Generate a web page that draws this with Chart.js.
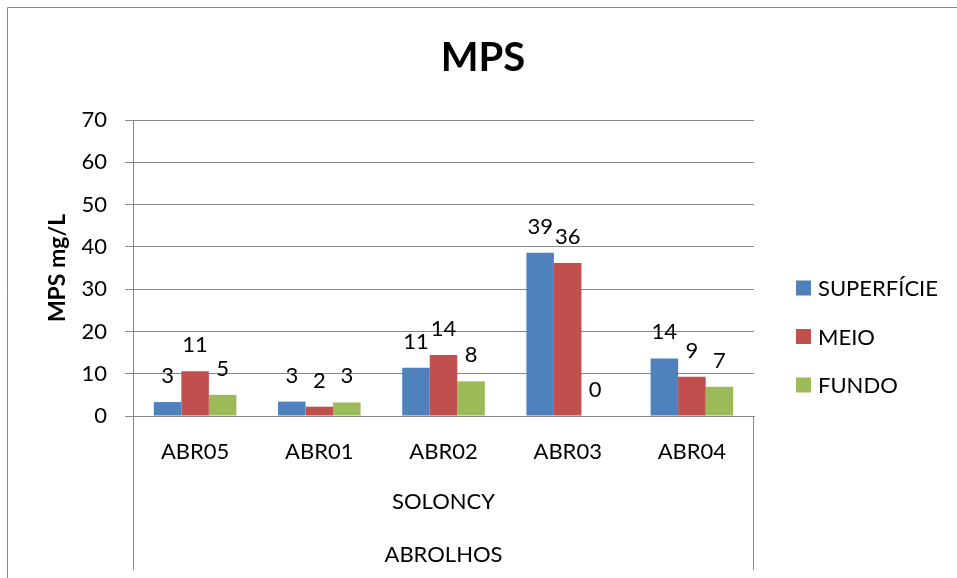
<!DOCTYPE html>
<html>
<head>
<meta charset="utf-8">
<script src="https://cdn.jsdelivr.net/npm/chart.js@4/dist/chart.umd.min.js"></script>
<style>
  html, body { margin: 0; padding: 0; background: #ffffff; }
  #wrap { width: 957px; height: 578px; }
</style>
</head>
<body>
<div id="wrap"><canvas id="c" width="957" height="578"></canvas></div>
<script>
// Stations (inner category level) and the outer grouping levels
const stations = ['ABR05', 'ABR01', 'ABR02', 'ABR03', 'ABR04'];
const groupLevels = ['SOLONCY', 'ABROLHOS'];

// Series names and MPS concentrations (mg/L) per station
const seriesNames = ['SUPERFÍCIE', 'MEIO', 'FUNDO'];
const superficie = [3.3, 3.4, 11.4, 38.6, 13.6];
const meio       = [10.6, 2.2, 14.4, 36.2, 9.3];
const fundo      = [5.0, 3.2, 8.2, 0, 6.9];

// Value axis ticks
const yTicks = [0, 10, 20, 30, 40, 50, 60, 70];

const chartTitle = 'MPS';
const axisTitle = 'MPS mg/L';

const seriesColors = ['#4F81BD', '#C0504D', '#9BBB59'];
const FONT = 'Lato, "Liberation Sans", sans-serif';
const GRID = '#888888';

// Outer frame lines and the centred chart title
const framePlugin = {
  id: 'frame',
  beforeDraw(chart) {
    const ctx = chart.ctx;
    ctx.save();
    ctx.fillStyle = '#ffffff';
    ctx.fillRect(0, 0, chart.width, chart.height);
    ctx.strokeStyle = GRID;
    ctx.lineWidth = 1;
    ctx.beginPath();
    ctx.moveTo(7.5, chart.height);
    ctx.lineTo(7.5, 7.5);
    ctx.lineTo(chart.width, 7.5);
    ctx.stroke();
    ctx.fillStyle = '#000000';
    ctx.font = 'bold 40px ' + FONT;
    ctx.textAlign = 'center';
    ctx.textBaseline = 'middle';
    ctx.fillText(chartTitle, 483, 58);
    ctx.restore();
  }
};

// Multi-level category axis: enclosing lines and the group rows
const groupAxisPlugin = {
  id: 'groupAxis',
  afterDraw(chart) {
    const xs = chart.scales.x;
    const ctx = chart.ctx;
    const l = Math.round(xs.left) + 0.5, r = Math.round(xs.right) - 0.5;
    const top = xs.top, bottom = 570;
    ctx.save();
    ctx.strokeStyle = GRID;
    ctx.lineWidth = 1;
    ctx.beginPath();
    ctx.moveTo(l, top); ctx.lineTo(l, bottom);
    ctx.moveTo(r, top); ctx.lineTo(r, bottom);
    ctx.stroke();
    ctx.fillStyle = '#000000';
    ctx.font = '22px ' + FONT;
    ctx.textAlign = 'center';
    ctx.textBaseline = 'middle';
    const cx = (xs.left + xs.right) / 2;
    const rowY = [502, 555];
    groupLevels.forEach((g, i) => ctx.fillText(g, cx, rowY[i]));
    ctx.restore();
  }
};

// Value labels above each bar
const valueLabelPlugin = {
  id: 'valueLabels',
  afterDatasetsDraw(chart) {
    const ctx = chart.ctx;
    ctx.save();
    ctx.fillStyle = '#000000';
    ctx.font = '22px ' + FONT;
    ctx.textAlign = 'center';
    ctx.textBaseline = 'alphabetic';
    chart.data.datasets.forEach((ds, di) => {
      const meta = chart.getDatasetMeta(di);
      meta.data.forEach((bar, i) => {
        const v = ds.data[i];
        ctx.fillText(String(Math.round(v)), bar.x, bar.y - 19);
      });
    });
    ctx.restore();
  }
};

// Legend at the right of the plot
const sideLegendPlugin = {
  id: 'sideLegend',
  afterDraw(chart) {
    const ctx = chart.ctx;
    const area = chart.chartArea;
    const bx = area.right + 42;
    const step = 48.5;
    const y0 = 336.5 - step;
    ctx.save();
    ctx.font = '22px ' + FONT;
    ctx.textAlign = 'left';
    ctx.textBaseline = 'middle';
    chart.data.datasets.forEach((ds, i) => {
      const y = y0 + i * step;
      ctx.fillStyle = ds.backgroundColor;
      ctx.fillRect(bx, y - 7.5, 15, 15);
      ctx.fillStyle = '#000000';
      ctx.fillText(ds.label, bx + 22, y + 1);
    });
    ctx.restore();
  }
};

new Chart(document.getElementById('c'), {
  type: 'bar',
  data: {
    labels: stations,
    datasets: [
      { label: seriesNames[0], data: superficie, backgroundColor: seriesColors[0] },
      { label: seriesNames[1], data: meio,       backgroundColor: seriesColors[1] },
      { label: seriesNames[2], data: fundo,      backgroundColor: seriesColors[2] }
    ]
  },
  options: {
    responsive: false,
    animation: false,
    devicePixelRatio: 1,
    layout: { padding: { left: 9, right: 203, top: 120, bottom: 0 } },
    datasets: {
      bar: { categoryPercentage: 0.665, barPercentage: 1.0, borderWidth: 0 }
    },
    plugins: {
      legend: { display: false },
      tooltip: { enabled: false },
      title: { display: false }
    },
    scales: {
      x: {
        offset: true,
        grid: { display: false, drawTicks: false },
        border: { display: true, color: GRID, width: 1 },
        ticks: {
          color: '#000000',
          font: { family: FONT, size: 22 },
          padding: 23,
          maxRotation: 0,
          autoSkip: false
        },
        afterFit(scale) { scale.height = 162; }
      },
      y: {
        min: 0,
        max: 70,
        afterBuildTicks(scale) { scale.ticks = yTicks.map(v => ({ value: v })); },
        grid: { color: GRID, lineWidth: 1, tickLength: 8, drawTicks: true },
        border: { display: true, color: GRID, width: 1 },
        ticks: {
          color: '#000000',
          font: { family: FONT, size: 22 },
          padding: 18
        },
        title: {
          display: true,
          text: axisTitle,
          color: '#000000',
          font: { family: FONT, size: 23, weight: 'bold' },
          padding: { top: 35, bottom: 0 }
        },
        afterFit(scale) { scale.width = 124; }
      }
    }
  },
  plugins: [framePlugin, groupAxisPlugin, valueLabelPlugin, sideLegendPlugin]
});
</script>
</body>
</html>
